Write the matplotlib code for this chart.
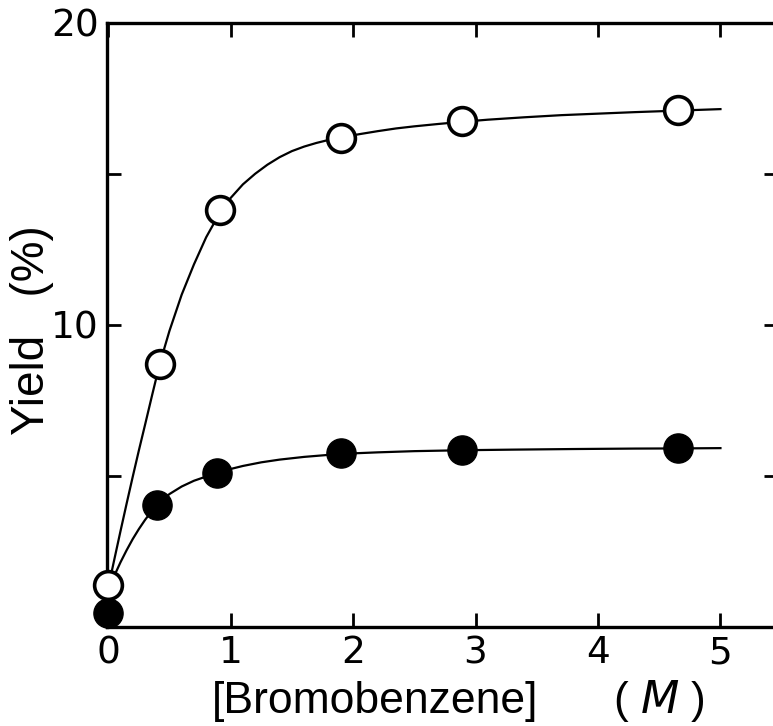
import matplotlib
matplotlib.use("Agg")
import matplotlib.pyplot as plt

# Measured points
conc_open = [0.0, 0.42, 0.91, 1.90, 2.89, 4.65]
yield_open = [1.4, 8.7, 13.8, 16.2, 16.75, 17.1]
conc_filled = [0.0, 0.40, 0.89, 1.90, 2.89, 4.65]
yield_filled = [0.45, 4.05, 5.1, 5.75, 5.85, 5.92]

# Smooth guide curves
curve_open_x = [0.0, 0.05, 0.1, 0.15, 0.2, 0.25, 0.3, 0.36, 0.42, 0.5, 0.6, 0.7, 0.8, 0.91,
                1.0, 1.1, 1.2, 1.3, 1.4, 1.5, 1.6, 1.7, 1.8, 1.9, 2.05, 2.2, 2.35, 2.5,
                2.7, 2.89, 3.1, 3.4, 3.7, 4.0, 4.3, 4.65, 5.0]
curve_open_y = [1.3, 2.24, 3.17, 4.08, 4.97, 5.84, 6.68, 7.7, 8.7, 9.8, 11.0, 12.0, 12.9, 13.7,
                14.2, 14.65, 15.0, 15.3, 15.55, 15.75, 15.9, 16.02, 16.12, 16.2, 16.31, 16.41, 16.5, 16.57,
                16.65, 16.72, 16.79, 16.87, 16.94, 16.99, 17.04, 17.09, 17.14]
curve_filled_x = [0.0, 0.05, 0.1, 0.15, 0.2, 0.25, 0.3, 0.35, 0.4, 0.5, 0.6, 0.7, 0.8, 0.89,
                  1.0, 1.1, 1.25, 1.4, 1.6, 1.9, 2.2, 2.5, 2.89, 3.3, 3.8, 4.3, 4.65, 5.0]
curve_filled_y = [1.23, 1.70, 2.14, 2.54, 2.91, 3.24, 3.54, 3.81, 4.05, 4.4, 4.65, 4.84, 4.98, 5.1,
                  5.23, 5.33, 5.45, 5.54, 5.63, 5.73, 5.78, 5.82, 5.85, 5.87, 5.89, 5.905, 5.91, 5.92]

xticks = [0, 1, 2, 3, 4, 5]
xticklabels = ["0", "1", "2", "3", "4", "5"]
yticks = [5, 10, 15, 20]
yticklabels = ["", "10", "", "20"]

x_label_main = "[Bromobenzene]"
x_label_unit = "( $\\it{M}$ )"
y_label = "Yield   (%)"

plt.rcParams['font.family'] = ['DejaVu Sans']
W, H = 773, 726

fig = plt.figure(figsize=(W/100, H/100), dpi=100)
ax = fig.add_axes([107/W, 99/H, 671/W, 604.3/H])

ax.plot(curve_open_x, curve_open_y, color='black', lw=1.6, zorder=2)
ax.plot(curve_filled_x, curve_filled_y, color='black', lw=1.6, zorder=2)
ax.plot(conc_open, yield_open, 'o', ms=20, mfc='white', mec='black', mew=2.6, zorder=3, clip_on=False)
ax.plot(conc_filled, yield_filled, 'o', ms=21, mfc='black', mec='black', mew=1, zorder=4, clip_on=False)

ax.set_xlim(-0.01, 5.47)
ax.set_ylim(0, 20)
ax.set_xticks(xticks)
ax.set_xticklabels(xticklabels)
ax.set_yticks(yticks)
ax.set_yticklabels(yticklabels)

for s in ax.spines.values():
    s.set_linewidth(2.4)

ax.tick_params(axis='both', direction='in', length=10, width=2, labelsize=27,
               top=True, right=True)
ax.tick_params(axis='x', pad=6)
ax.tick_params(axis='y', pad=6)

lab_font = ['Liberation Sans', 'DejaVu Sans']
fig.text(375/W, 1 - 713/H, x_label_main, fontsize=32, family=lab_font,
         ha='center', va='baseline')
fig.text(659/W, 1 - 713/H, x_label_unit, fontsize=32, family=lab_font,
         ha='center', va='baseline')
fig.text(32/W, 1 - 330/H, y_label, fontsize=33, family=lab_font,
         rotation=90, ha='center', va='center')

fig.savefig("out.png", dpi=100)
